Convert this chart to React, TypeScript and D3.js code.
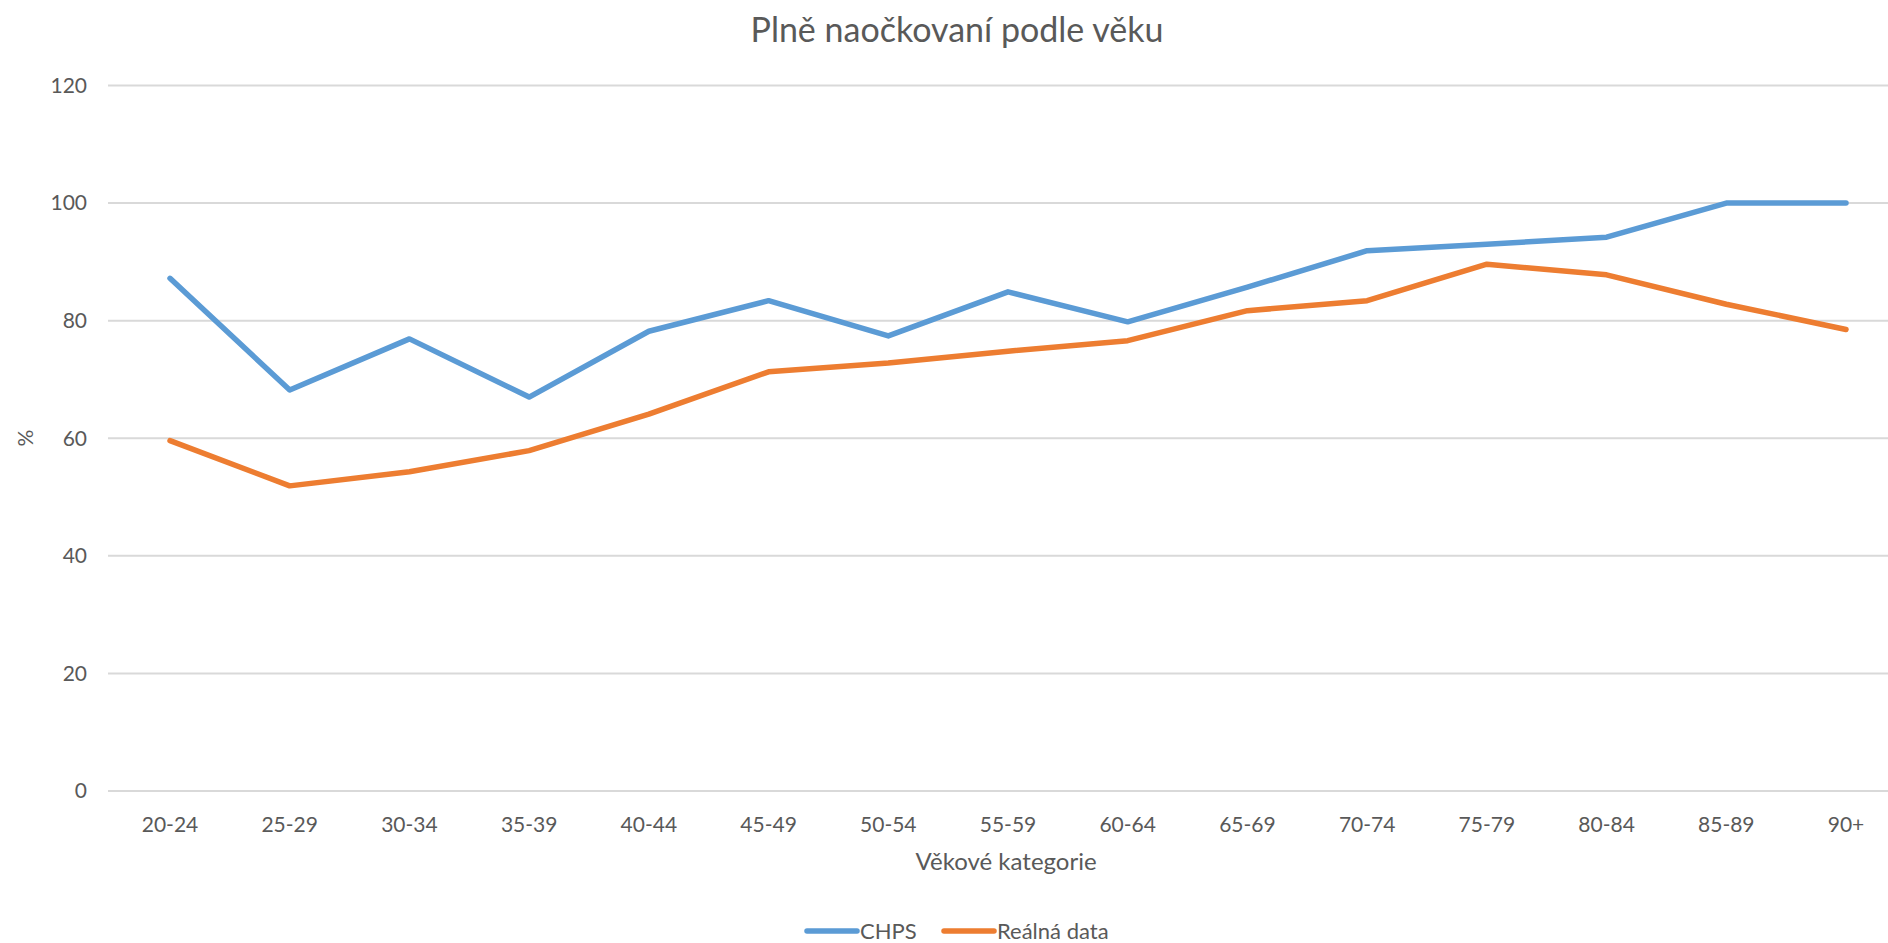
import React from "react";
import * as d3 from "d3";

const categories = ["20-24","25-29","30-34","35-39","40-44","45-49","50-54","55-59","60-64","65-69","70-74","75-79","80-84","85-89","90+"];
const chpsValues = [87.2, 68.2, 76.9, 67.0, 78.2, 83.4, 77.4, 84.9, 79.8, 85.7, 91.9, 93.0, 94.2, 100, 100];
const realValues = [59.6, 51.9, 54.3, 57.9, 64.1, 71.3, 72.8, 74.8, 76.6, 81.7, 83.4, 89.6, 87.8, 82.8, 78.5];
const yTicks = [0, 20, 40, 60, 80, 100, 120];
const seriesNames = ["CHPS", "Reálná data"];
const seriesColors = ["#5B9BD5", "#ED7D31"];

const W = 1888;
const H = 943;
const FONT = "Lato, 'Open Sans', sans-serif";
const TEXT = "#595959";

export default function App() {
  const x = d3.scalePoint<string>().domain(categories).range([170, 1846]);
  const y = d3.scaleLinear().domain([0, 120]).range([791, 85.5]);
  const line = d3
    .line<number>()
    .x((_, i) => x(categories[i]) as number)
    .y((d) => y(d));
  const series = [chpsValues, realValues];

  const legendX = [807, 944];

  return (
    <svg
      width={W}
      height={H}
      style={{ position: "absolute", left: 0, top: 0, background: "#fff", display: "block" }}
      fontFamily={FONT}
    >
      <rect width={W} height={H} fill="#fff" />
      <text x={957} y={42} textAnchor="middle" fontSize={34} fill={TEXT}>
        Plně naočkovaní podle věku
      </text>
      {yTicks.map((t) => (
        <g key={t}>
          <line x1={108} x2={1888} y1={y(t)} y2={y(t)} stroke="#D9D9D9" strokeWidth={2} />
          <text x={87} y={y(t)} dy="0.35em" textAnchor="end" fontSize={21} fill={TEXT}>
            {t}
          </text>
        </g>
      ))}
      {categories.map((c) => (
        <text key={c} x={x(c)} y={825} dy="0.35em" textAnchor="middle" fontSize={21} fill={TEXT}>
          {c}
        </text>
      ))}
      <text x={1006} y={862} dy="0.35em" textAnchor="middle" fontSize={24} fill={TEXT}>
        Věkové kategorie
      </text>
      <text
        transform={`translate(26,438) rotate(-90)`}
        textAnchor="middle"
        dy="0.35em"
        fontSize={21}
        fill={TEXT}
      >
        %
      </text>
      {series.map((s, i) => (
        <path
          key={i}
          d={line(s) || ""}
          fill="none"
          stroke={seriesColors[i]}
          strokeWidth={5.5}
          strokeLinejoin="round"
          strokeLinecap="round"
        />
      ))}
      {seriesNames.map((n, i) => (
        <g key={n}>
          <line
            x1={legendX[i]}
            x2={legendX[i] + 50}
            y1={931}
            y2={931}
            stroke={seriesColors[i]}
            strokeWidth={5.5}
            strokeLinecap="round"
          />
          <text x={legendX[i] + 53} y={931} dy="0.35em" fontSize={22} fill={TEXT}>
            {n}
          </text>
        </g>
      ))}
    </svg>
  );
}
